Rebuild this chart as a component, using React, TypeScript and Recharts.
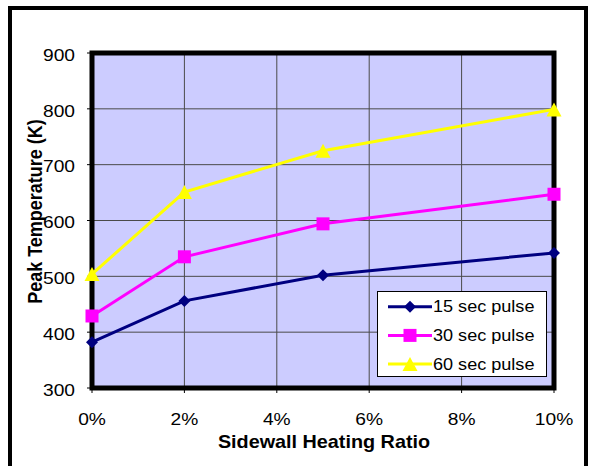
import React from 'react';
import {
  LineChart,
  Line,
  XAxis,
  YAxis,
  CartesianGrid,
  Legend,
  ReferenceArea,
} from 'recharts';

// sidewall heating ratio (%) and peak temperature (K) per pulse length
const ratios = [0, 2, 5, 10];
const pulse15 = [382, 456, 502, 542];
const pulse30 = [429, 535, 594, 647];
const pulse60 = [504, 651, 725, 799];

const xTicks = [0, 2, 4, 6, 8, 10];
const yTicks = [300, 400, 500, 600, 700, 800, 900];

const seriesNames = ['15 sec pulse', '30 sec pulse', '60 sec pulse'];
const seriesColors = ['#000080', '#FF00FF', '#FFFF00'];

const data = ratios.map((r, i) => ({
  ratio: r,
  p15: pulse15[i],
  p30: pulse30[i],
  p60: pulse60[i],
}));

const FONT = '"Liberation Sans", Arial, sans-serif';

function Marker({ kind, cx, cy, fill }: { kind: number; cx: number; cy: number; fill: string }) {
  if (kind === 0) {
    const r = 6;
    return <path d={`M${cx},${cy - r}L${cx + r},${cy}L${cx},${cy + r}L${cx - r},${cy}Z`} fill={fill} />;
  }
  if (kind === 1) {
    return <rect x={cx - 6.5} y={cy - 6.5} width={13} height={13} fill={fill} />;
  }
  return <path d={`M${cx},${cy - 7}L${cx + 7.5},${cy + 7}L${cx - 7.5},${cy + 7}Z`} fill={fill} />;
}

const makeDot = (kind: number) => (props: any) => {
  const { cx, cy, index } = props;
  if (cx == null || cy == null) return <g key={index} />;
  return (
    <g key={index}>
      <Marker kind={kind} cx={cx} cy={cy} fill={seriesColors[kind]} />
    </g>
  );
};

const XTick = (props: any) => {
  const { x, y, payload } = props;
  return (
    <g transform={`translate(${x},${y})`}>
      <text transform="scale(1.2,1)" textAnchor="middle" dy="0.71em" fontSize={16} fontFamily={FONT} fill="#000">
        {payload.value}%
      </text>
    </g>
  );
};

const YTick = (props: any) => {
  const { x, y, payload } = props;
  return (
    <g transform={`translate(${x},${y + 2})`}>
      <text transform="scale(1.2,1)" textAnchor="end" dy="0.355em" fontSize={16} fontFamily={FONT} fill="#000">
        {payload.value}
      </text>
    </g>
  );
};

const XTitle = (props: any) => {
  const { viewBox } = props;
  const cx = viewBox.x + viewBox.width / 2 + 1;
  return (
    <g transform={`translate(${cx},448)`}>
      <text transform="scale(1.1,1)" textAnchor="middle" fontSize={18} fontWeight="bold" fontFamily={FONT} fill="#000">
        Sidewall Heating Ratio
      </text>
    </g>
  );
};

const YTitle = (props: any) => {
  const { viewBox } = props;
  const cy = viewBox.y + viewBox.height / 2 - 9;
  return (
    <g transform={`translate(42,${cy}) rotate(-90)`}>
      <text transform="scale(1,1.1)" textAnchor="middle" fontSize={18} fontWeight="bold" fontFamily={FONT} fill="#000">
        Peak Temperature (K)
      </text>
    </g>
  );
};

const LegendBox = () => (
  <svg width={170} height={86} style={{ display: 'block' }}>
    <rect x={0.5} y={0.5} width={169} height={85} fill="#fff" stroke="#000" strokeWidth={1} />
    {seriesNames.map((name, i) => {
      const cy = 15.7 + i * 28.7;
      return (
        <g key={name}>
          <line x1={11} y1={cy} x2={55} y2={cy} stroke={seriesColors[i]} strokeWidth={3} />
          <Marker kind={i} cx={33} cy={cy} fill={seriesColors[i]} />
          <g transform={`translate(56,${cy + 5.5})`}>
            <text transform="scale(1.13,1)" fontSize={16} fontFamily={FONT} fill="#000">
              {name}
            </text>
          </g>
        </g>
      );
    })}
  </svg>
);

export default function App() {
  return (
    <div
      style={{
        position: 'absolute',
        left: 0,
        top: 0,
        width: 589,
        height: 466,
        overflow: 'hidden',
        background: '#fff',
      }}
    >
      <div
        style={{
          position: 'absolute',
          left: 8,
          top: 6,
          width: 580,
          height: 480,
          boxSizing: 'border-box',
          border: '4px solid #000',
        }}
      />
      <div style={{ position: 'absolute', left: 0, top: 0 }}>
        <LineChart width={589} height={466} data={data} margin={{ top: 53, right: 35, bottom: 28, left: 32 }}>
          <CartesianGrid fill="#CCCCFF" fillOpacity={1} stroke="#4a4a4a" strokeWidth={1} />
          <XAxis
            dataKey="ratio"
            type="number"
            domain={[0, 10]}
            ticks={xTicks}
            height={50}
            axisLine={false}
            tickLine={{ stroke: '#000' }}
            tickSize={5}
            tickMargin={21}
            tick={<XTick />}
            interval={0}
            label={<XTitle />}
          />
          <YAxis
            type="number"
            domain={[300, 900]}
            ticks={yTicks}
            width={60}
            axisLine={false}
            tickLine={{ stroke: '#000' }}
            tickSize={5}
            tickMargin={12}
            tick={<YTick />}
            interval={0}
            label={<YTitle />}
          />
          <ReferenceArea
            x1={0}
            x2={10}
            y1={300}
            y2={900}
            fill="none"
            stroke="#000"
            strokeWidth={5}
            ifOverflow="visible"
          />
          <Legend
            layout="vertical"
            align="center"
            verticalAlign="middle"
            content={<LegendBox />}
            wrapperStyle={{ left: 377, top: 291, width: 170, height: 86 }}
          />
          <Line dataKey="p15" stroke={seriesColors[0]} strokeWidth={3} dot={makeDot(0)} activeDot={false} isAnimationActive={false} />
          <Line dataKey="p30" stroke={seriesColors[1]} strokeWidth={3} dot={makeDot(1)} activeDot={false} isAnimationActive={false} />
          <Line dataKey="p60" stroke={seriesColors[2]} strokeWidth={3} dot={makeDot(2)} activeDot={false} isAnimationActive={false} />
        </LineChart>
      </div>
    </div>
  );
}
